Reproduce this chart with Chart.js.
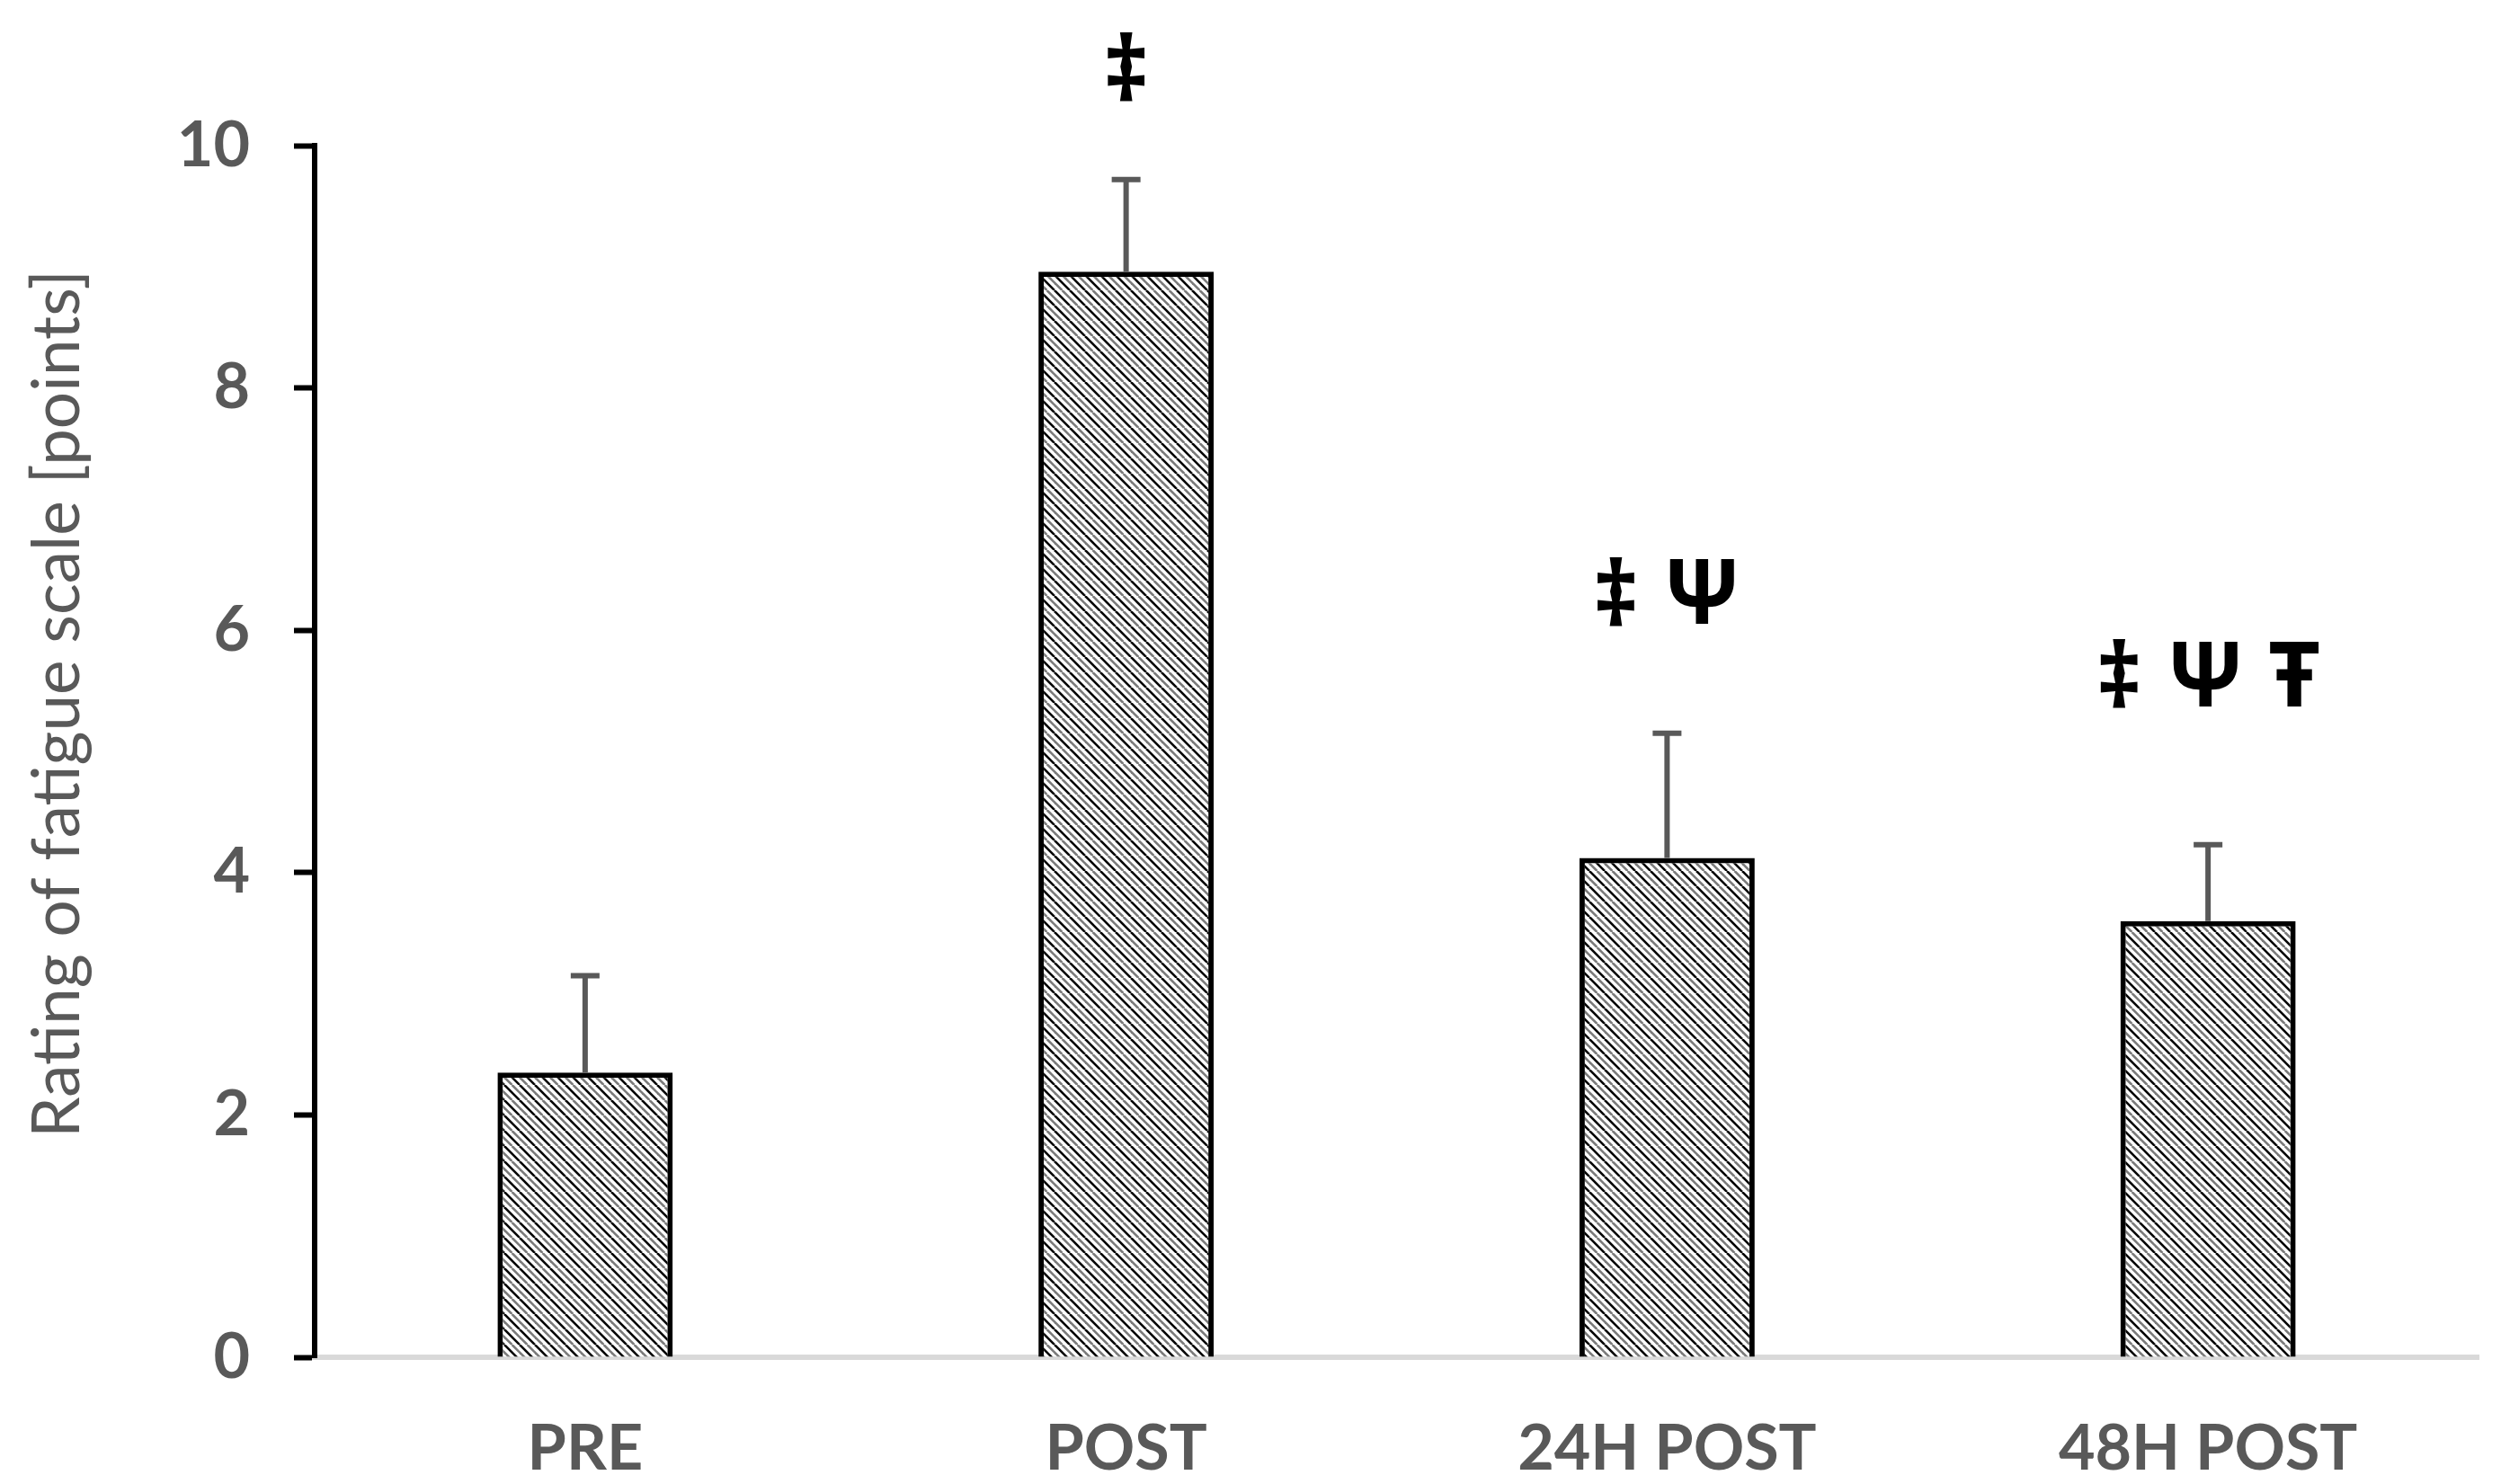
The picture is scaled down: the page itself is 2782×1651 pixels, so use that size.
<!DOCTYPE html>
<html>
<head>
<meta charset="utf-8">
<script src="https://cdn.jsdelivr.net/npm/chart.js@4"></script>
<style>
    body { margin: 0; background: #fff; }
    #wrap { width: 2782px; height: 1651px; }
</style>
</head>
<body>
<div id="wrap"><canvas id="fatigueChart"></canvas></div>
<script>
//// Data
const timepoints = ['PRE', 'POST', '24H POST', '48H POST'];
const fatigueMean = [2.35, 8.96, 4.12, 3.60];
const fatigueSd = [0.80, 0.76, 1.03, 0.63];
// significance marks and the axis value their middle sits on
const sigMarks = ['', '‡', '‡ Ψ', '‡ Ψ Ŧ'];
const sigMarkLevel = [null, 10.65, 6.32, 5.64];
const yTicks = [0, 2, 4, 6, 8, 10];
const yTitle = 'Rating of fatigue scale [points]';

const labelGrey = '#595959';

// hatched fill like the excel "wide downward diagonal"
function makeHatch() {
    const c = document.createElement('canvas');
    c.width = 17;
    c.height = 17;
    const g = c.getContext('2d');
    g.fillStyle = '#fff';
    g.fillRect(0, 0, 17, 17);
    g.lineWidth = 2.6;
    [-17, 0, 17].forEach(o => {
        g.strokeStyle = '#000';
        g.beginPath();
        g.moveTo(o, 0);
        g.lineTo(o + 17, 17);
        g.stroke();
        g.strokeStyle = '#7a7a7a';
        g.beginPath();
        g.moveTo(o + 8.5, 0);
        g.lineTo(o + 25.5, 17);
        g.stroke();
    });
    return g.createPattern(c, 'repeat');
}

//// Plugins
const errorBars = {
    id: 'errorBars',
    afterDatasetsDraw(chart) {
        const { ctx, scales: { y } } = chart;
        const meta = chart.getDatasetMeta(0);
        ctx.save();
        ctx.strokeStyle = labelGrey;
        ctx.lineWidth = 6;
        meta.data.forEach((bar, i) => {
            const top = y.getPixelForValue(fatigueMean[i] + fatigueSd[i]);
            ctx.beginPath();
            ctx.moveTo(bar.x, bar.y);
            ctx.lineTo(bar.x, top);
            ctx.moveTo(bar.x - 16, top);
            ctx.lineTo(bar.x + 16, top);
            ctx.stroke();
        });
        ctx.restore();
    }
};

const marks = {
    id: 'marks',
    afterDraw(chart) {
        const { ctx, scales: { x, y } } = chart;
        ctx.save();
        ctx.fillStyle = '#000';
        ctx.font = 'bold 100px "Noto Sans"';
        ctx.textAlign = 'left';
        ctx.textBaseline = 'alphabetic';
        const space = ctx.measureText(' ').width;
        sigMarks.forEach((m, i) => {
            if (!m) return;
            const parts = m.split(' ');
            const widths = parts.map(p => ctx.measureText(p).width);
            const total = widths.reduce((a, b) => a + b, 0) + space * (parts.length - 1);
            let cx = x.getPixelForValue(i) - total / 2;
            const cy = y.getPixelForValue(sigMarkLevel[i]);
            parts.forEach((p, k) => {
                const mt = ctx.measureText(p);
                const base = cy + (mt.actualBoundingBoxAscent - mt.actualBoundingBoxDescent) / 2;
                ctx.fillText(p, cx, base);
                cx += widths[k] + space;
            });
        });
        ctx.restore();
    }
};

const sideTitle = {
    id: 'sideTitle',
    afterDraw(chart) {
        const { ctx, chartArea } = chart;
        ctx.save();
        ctx.translate(64, (chartArea.top + chartArea.bottom) / 2 - 53);
        ctx.rotate(-Math.PI / 2);
        ctx.fillStyle = labelGrey;
        ctx.font = '73px Lato';
        ctx.textAlign = 'center';
        ctx.textBaseline = 'middle';
        ctx.fillText(yTitle, 0, 0);
        ctx.restore();
    }
};

//// Chart
window.onload = () => {
    const fatigueChart = document.getElementById('fatigueChart');

    new Chart(fatigueChart, {
        type: 'bar',
        data: {
            labels: timepoints,
            datasets: [{
                data: fatigueMean,
                backgroundColor: makeHatch(),
                borderColor: '#000',
                borderWidth: 6,
                borderSkipped: 'start',
                barPercentage: 1,
                categoryPercentage: 0.324
            }]
        },
        options: {
            responsive: true,
            maintainAspectRatio: false,
            animation: false,
            layout: { padding: { top: 162, right: 25, bottom: 0, left: 0 } },
            plugins: {
                legend: { display: false },
                tooltip: { enabled: false }
            },
            scales: {
                x: {
                    afterFit: s => { s.height = 141; },
                    grid: { display: false, drawTicks: false },
                    border: { display: true, color: '#d9d9d9', width: 6 },
                    ticks: {
                        padding: 60,
                        color: labelGrey,
                        font: { family: 'Lato', size: 70, weight: 'bold' }
                    }
                },
                y: {
                    min: 0,
                    max: 10,
                    afterFit: s => { s.width = 350; },
                    afterBuildTicks: s => { s.ticks = yTicks.map(v => ({ value: v })); },
                    grid: {
                        drawOnChartArea: false,
                        drawTicks: true,
                        tickLength: 23,
                        tickColor: '#000',
                        tickWidth: 6
                    },
                    border: { display: true, color: '#000', width: 6 },
                    ticks: {
                        padding: 49,
                        color: labelGrey,
                        font: { family: 'Lato', size: 70, weight: 'bold' }
                    }
                }
            }
        },
        plugins: [errorBars, marks, sideTitle]
    });
}
</script>
</body>
</html>
